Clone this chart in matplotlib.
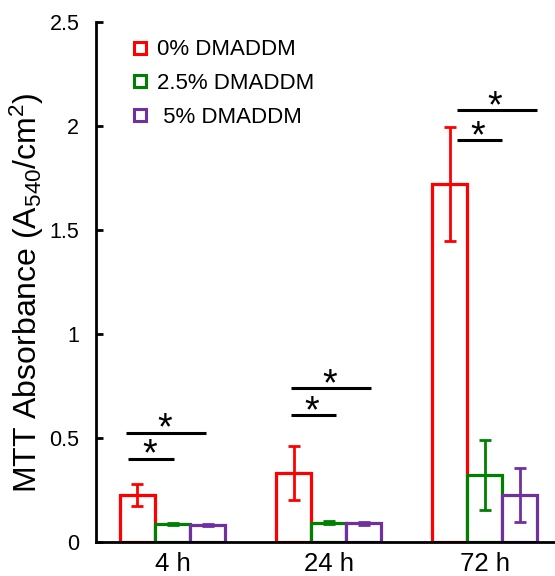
import numpy as np
from matplotlib import pyplot as plt
from matplotlib.lines import Line2D

plt.rcParams['font.family'] = ['Liberation Sans', 'DejaVu Sans']
plt.rcParams['mathtext.fontset'] = 'custom'
plt.rcParams['mathtext.rm'] = 'Liberation Sans'
plt.rcParams['mathtext.it'] = 'Liberation Sans'

# datos
tiempos = ["4 h", "24 h", "72 h"]
series = ["0% DMADDM", "2.5% DMADDM", " 5% DMADDM"]
media_0 = [0.225, 0.33, 1.72]
media_25 = [0.085, 0.093, 0.322]
media_5 = [0.082, 0.09, 0.225]
err_0 = [0.053, 0.13, 0.275]
err_25 = [0.005, 0.006, 0.17]
err_5 = [0.005, 0.006, 0.13]

# lineas de significancia (grupo, altura, inicio, fin relativo al centro del grupo)
sig_grupo = [0, 0, 1, 1, 2, 2]
sig_y = [0.40, 0.525, 0.61, 0.74, 1.93, 2.075]
sig_x0 = [-0.285, -0.298, -0.243, -0.243, -0.18, -0.18]
sig_x1 = [0.01, 0.214, 0.046, 0.27, 0.11, 0.333]

colores = ["#ff0000", "#008000", "#7030a0"]

fig = plt.figure(figsize=(5.55, 5.76), dpi=100)
ax = fig.add_axes([0.173, 0.059, 0.827, 0.903])

x = np.arange(len(tiempos))
w = 0.225
medias = [media_0, media_25, media_5]
errores = [err_0, err_25, err_5]
for i in range(3):
    pos = x + (i - 1) * w
    ax.bar(pos, medias[i], w, facecolor="white", edgecolor=colores[i], linewidth=2.3, zorder=2)
    ax.errorbar(pos, medias[i], yerr=errores[i], fmt="none", ecolor=colores[i],
                elinewidth=2, capsize=4.5, capthick=2, zorder=3)

for g, y, a, b in zip(sig_grupo, sig_y, sig_x0, sig_x1):
    ax.plot([g + a, g + b], [y, y], color="black", lw=2.2, solid_capstyle="butt")
    ax.annotate("*", (g + (a + b) / 2 - 0.01, y), xytext=(0, -5), textcoords="offset points",
                ha="center", va="baseline", fontsize=27)

ax.set_xlim(-0.49, 2.45)
ax.set_ylim(0, 2.5)
ax.set_yticks([0, 0.5, 1, 1.5, 2, 2.5])
ax.set_yticklabels(["0", "0.5", "1", "1.5", "2", "2.5"])
ax.set_xticks(x)
ax.set_xticklabels(tiempos, fontsize=18.5)
ax.tick_params(axis="y", direction="in", length=5, width=2, pad=12, labelsize=15.5)
ax.tick_params(axis="x", length=0, pad=7)
ax.spines["top"].set_visible(False)
ax.spines["right"].set_visible(False)
ax.spines["left"].set_linewidth(2)
ax.spines["bottom"].set_linewidth(2)
ax.set_ylabel(r"MTT Absorbance (A$_{540}$/cm$^{2}$)", fontsize=23)
ax.yaxis.set_label_coords(-0.108, 0.48)

handles = [Line2D([], [], marker="s", ls="", mfc="white", mec=c, mew=2.2, ms=8) for c in colores]
ax.legend(handles, series, loc="upper left", bbox_to_anchor=(0.033, 1.005), frameon=False,
          fontsize=16, handlelength=0.8, handletextpad=0.35, labelspacing=0.58)

plt.savefig("out.png", dpi=100)
